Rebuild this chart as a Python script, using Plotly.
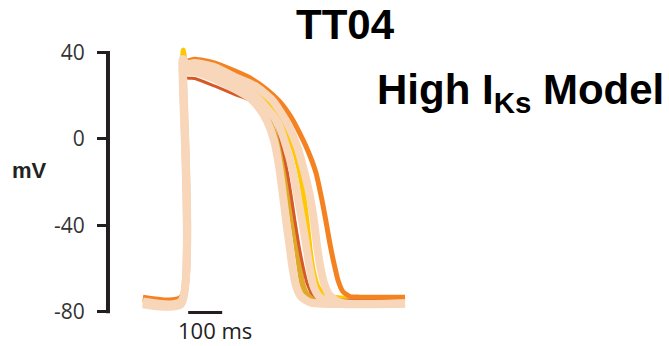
import plotly.graph_objects as go

# Action potentials: time in ms (upstroke at 0) and membrane voltage in mV
orange_t = [-118, -6, 0, 9, 35, 94, 153, 197, 241, 285, 321, 347, 370, 391, 406, 420, 432, 444, 456, 470, 491, 520, 653]
orange_v = [-73.2, -73.2, 37.8, 36.0, 36.9, 35.1, 31.4, 28.2, 23.5, 17.1, 9.2, 1.4, -6.5, -15.7, -26.3, -37.8, -48.5, -57.7, -65.5, -70.6, -72.9, -73.2, -73.2]

yellow_t = [-118, -6, 0, 9, 35, 94, 168, 226, 272, 303, 327, 345, 357, 366, 374, 383, 395, 412, 450, 653]
yellow_v = [-73.8, -73.8, 41.1, 35.1, 34.6, 32.8, 27.7, 21.2, 12.9, 3.7, -5.5, -17.1, -28.6, -40.2, -51.7, -60.9, -67.8, -71.5, -73.4, -73.8]

red_t = [-118, -6, 0, 9, 35, 94, 153, 197, 232, 270, 291, 306, 318, 329, 341, 353, 365, 379, 403, 653]
red_v = [-74.3, -74.3, 36.9, 28.4, 28.0, 24.4, 20.5, 17.8, 13.8, 8.3, -3.2, -14.8, -26.3, -37.8, -49.4, -59.1, -66.9, -71.5, -74.0, -74.3]

gold_t = [-118, -6, 0, 9, 35, 94, 168, 220, 250, 276, 294, 309, 321, 332, 341, 350, 362, 385, 653]
gold_v = [-74.3, -74.3, 37.8, 32.3, 32.3, 29.5, 24.5, 17.5, 9.2, -0.9, -12.5, -24.0, -35.5, -47.1, -57.2, -66.5, -71.5, -73.8, -74.3]

peach_a_t = [-118, -6, 0, 9, 35, 94, 153, 197, 226, 247, 268, 282, 294, 303, 312, 321, 332, 347, 376, 653]
peach_a_v = [-75.2, -75.2, 36.9, 31.4, 30.9, 27.7, 23.0, 18.9, 13.8, 8.3, -0.9, -12.5, -26.3, -37.8, -48.0, -58.6, -67.8, -72.9, -75.7, -76.1]

peach_b_t = [-118, -6, 0, 9, 35, 94, 153, 203, 241, 279, 303, 324, 338, 350, 362, 373, 385, 403, 441, 653]
peach_b_v = [-75.7, -75.7, 36.9, 33.2, 33.2, 30.5, 26.2, 21.2, 15.2, 7.4, -3.2, -15.7, -27.7, -37.8, -49.4, -60.0, -68.8, -73.4, -76.1, -76.1]

peach_c_t = [-118, -6, 0, 9, 35, 94, 153, 212, 262, 303, 335, 356, 373, 385, 394, 403, 415, 432, 462, 653]
peach_c_v = [-76.5, -76.5, 36.9, 34.6, 35.1, 33.2, 28.6, 24.5, 18.0, 8.3, -3.2, -14.8, -26.3, -37.8, -49.4, -58.6, -66.9, -72.5, -75.7, -76.1]

y_ticks = [-80, -40, 0, 40]
scale_bar_start_ms = 15
scale_bar_ms = 100

PEACH = "#F8D6B9"
INK = "#231F20"

fig = go.Figure()


def add_ap(t, v, color, width):
    fig.add_trace(go.Scatter(
        x=t, y=v, mode="lines",
        line=dict(color=color, width=width, shape="spline", smoothing=0.6),
        hoverinfo="skip", showlegend=False,
    ))


# coloured traces sit beneath the light population traces
add_ap(gold_t, gold_v, "#E0A82A", 6)
add_ap(yellow_t, yellow_v, "#FFC805", 5)
add_ap(red_t, red_v, "#D65A27", 3)
add_ap(orange_t, orange_v, "#F58220", 5)
add_ap(peach_a_t, peach_a_v, PEACH, 8)
add_ap(peach_b_t, peach_b_v, PEACH, 8)
add_ap(peach_c_t, peach_c_v, PEACH, 8)

# vertical voltage axis line
fig.add_shape(type="line", xref="paper", yref="y",
              x0=-0.0065, x1=-0.0065, y0=y_ticks[0] - 0.7, y1=y_ticks[-1] + 0.7,
              line=dict(color=INK, width=4))

# time scale bar
fig.add_shape(type="line", xref="x", yref="y",
              x0=scale_bar_start_ms, x1=scale_bar_start_ms + scale_bar_ms,
              y0=-80.3, y1=-80.3, line=dict(color=INK, width=3))
fig.add_annotation(text=f"{scale_bar_ms} ms", xref="x", yref="paper",
                   x=95, y=-0.058, showarrow=False, xanchor="center", yanchor="middle",
                   font=dict(family="Open Sans", size=22, color="#222222"))

fig.add_annotation(text="<b>TT04</b>", xref="paper", yref="paper",
                   x=0.761, y=1.082, showarrow=False, xanchor="center", yanchor="middle",
                   font=dict(family="Liberation Sans", size=42, color="#000000"))
fig.add_annotation(text="<b>High I<sub>Ks</sub> Model</b>", xref="paper", yref="paper",
                   x=0.856, y=0.826, showarrow=False, xanchor="left", yanchor="middle",
                   font=dict(family="Liberation Sans", size=42, color="#000000"))
fig.add_annotation(text="<b>mV</b>", xref="paper", yref="paper",
                   x=-0.26, y=0.535, showarrow=False, xanchor="center", yanchor="middle",
                   font=dict(family="Liberation Sans", size=22, color="#222222"))

fig.update_layout(
    width=669, height=346,
    margin=dict(l=110, r=249, t=46, b=32),
    paper_bgcolor="white", plot_bgcolor="white",
    xaxis=dict(range=[-215, 697], visible=False),
    yaxis=dict(
        range=[-81, 43], tickvals=y_ticks, ticktext=[str(v) for v in y_ticks],
        ticks="outside", ticklen=12, tickwidth=3, tickcolor=INK,
        showline=False, showgrid=False, zeroline=False,
        ticklabelstandoff=8,
        tickfont=dict(family="Open Sans", size=21, color="#333333"),
    ),
)

fig.write_html("out.html")
